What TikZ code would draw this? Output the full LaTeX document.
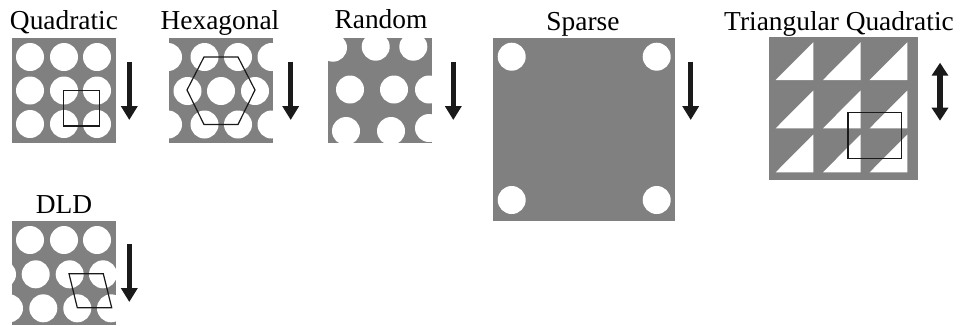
\documentclass[tikz,border=0pt]{standalone}
\usepackage{fontspec}
\setmainfont{Liberation Serif}
\usetikzlibrary{arrows.meta}
\definecolor{plate}{HTML}{808080}
\definecolor{ink}{HTML}{1A1A1A}
\tikzset{
  platefill/.style={fill=plate,draw=none},
  hole/.style={fill=white,draw=none},
  unitcell/.style={draw=ink,line width=1.2pt,fill=none,line join=miter},
  flowarrow/.style={draw=ink,line width=5.2pt,-{Triangle[width=16pt,length=14pt,fill=ink]}},
  flowboth/.style={draw=ink,line width=5.2pt,{Triangle[width=16pt,length=13pt,fill=ink]}-{Triangle[width=16pt,length=13pt,fill=ink]}},
  title/.style={anchor=base,inner sep=0pt,text=black,font=\fontsize{27.4pt}{30pt}\selectfont}
}
\begin{document}
\begin{tikzpicture}[x=1pt,y=-1pt]
\useasboundingbox (0,0) rectangle (960,325);
\fill[white] (0,0) rectangle (960,325);
% Titles
\node[title] (tq) at (64,29.5) {Quadratic};
\node[title] (th) at (220,29.5) {Hexagonal};
\node[title] (tr) at (381,28.5) {Random};
\node[title] (ts) at (583,30) {Sparse};
\node[title] (tt) at (839,30.5) {Triangular Quadratic};
\node[title] (td) at (64,213) {DLD};
% Quadratic
\fill[platefill] (11.5,38) rectangle (116,143);
\foreach \cx in {30,64,97} \foreach \cy in {57,90.5,124}
  \fill[hole] (\cx,\cy) circle (14pt);
\draw[unitcell] (63.5,90.5) rectangle (99.5,126);
\draw[flowarrow] (129.3,61.7) -- (129.3,120);
% Hexagonal
\fill[platefill] (168.5,38) rectangle (273,143);
\begin{scope}
\clip (168.5,38) rectangle (273,143);
\foreach \cy in {57,124.5} \foreach \cx in {168,204.5,238,271.5}
  \fill[hole] (\cx,\cy) circle (14pt);
\foreach \cx in {187.5,221,255}
  \fill[hole] (\cx,91) circle (14pt);
\end{scope}
\draw[unitcell] (187,90) -- (204,57) -- (238,57) -- (255,90) -- (238,124.5) -- (204,124.5) -- cycle;
\draw[flowarrow] (290.7,61.7) -- (290.7,120);
% Random
\fill[platefill] (328,38) rectangle (432,143);
\begin{scope}
\clip (328,38) rectangle (432,143);
\foreach \cx/\cy in {333/47.7,375.7/46.7,413.3/46.7,350/89.5,394/89.5,429/89.5,346/131,391/131,429/128}
  \fill[hole] (\cx,\cy) circle (14pt);
\end{scope}
\draw[flowarrow] (453.3,61.7) -- (453.3,120);
% Sparse
\fill[platefill] (492.7,37.7) rectangle (675,221);
\foreach \cx in {511.7,656.7} \foreach \cy in {56.7,200}
  \fill[hole] (\cx,\cy) circle (14pt);
\draw[flowarrow] (690.7,61.7) -- (690.7,120);
% Triangular Quadratic
\fill[platefill] (769.3,37.3) rectangle (918.3,180.3);
\foreach \tx in {775.7,823,869.7} \foreach \by in {80,128.3,172.3}
  \fill[hole] (\tx,\by) -- ++(37.6,-37.8) -- ++(0,37.8) -- cycle;
\draw[unitcell] (848,112.7) rectangle (901.3,158.3);
\draw[flowboth] (940,62.7) -- (940,120.7);
% DLD
\fill[platefill] (11.5,221) rectangle (116,325);
\begin{scope}
\clip (11.5,221) rectangle (116,325);
\foreach \cx in {30,64,97}
  \fill[hole] (\cx,240) circle (14pt);
\foreach \cx in {2,35.7,69.7,103}
  \fill[hole] (\cx,274.3) circle (14pt);
\foreach \cx in {9,43.3,77.3,111}
  \fill[hole] (\cx,308.3) circle (14pt);
\end{scope}
\draw[unitcell] (69,273.7) -- (103.3,273.7) -- (111.7,307.7) -- (77.3,307.7) -- cycle;
\draw[flowarrow] (129.3,244) -- (129.3,302);
\end{tikzpicture}
\end{document}
